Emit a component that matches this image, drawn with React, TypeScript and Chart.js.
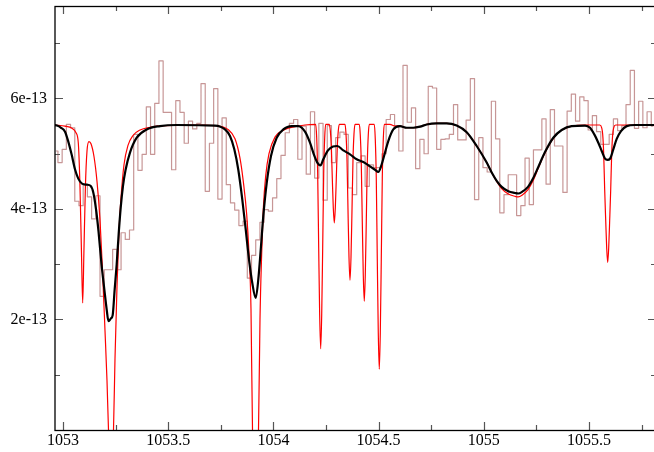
import React, { useEffect, useRef } from "react";
import { Chart, registerables } from "chart.js";

Chart.register(...registerables);

// Flux values are in units of 1e-13 (axis labels carry the "e-13").
// Observed spectrum: binned histogram, first bin centre + bin width (Å)
const obsFirstBinCentre = 1052.966;
const obsBinWidth = 0.02;
const observedFlux = [
  5.05, 4.84, 5.08, 5.53, 5.47, 4.14, 4.06, 4.44, 4.22, 3.82,
  4.24, 2.42, 2.9, 2.9, 3.27, 2.9, 3.57, 3.45, 3.62, 5.35,
  4.7, 4.99, 5.85, 4.99, 5.91, 6.68, 5.75, 5.75, 4.71, 5.96,
  5.75, 5.19, 5.59, 5.45, 5.55, 6.27, 4.32, 5.19, 6.18, 4.18,
  5.65, 4.44, 4.11, 3.98, 3.7, 3.78, 2.75, 3.16, 3.44, 3.76,
  3.99, 3.96, 4.2, 4.55, 4.97, 5.38, 5.55, 5.62, 4.9, 5.5,
  4.63, 5.76, 4.56, 5.55, 4.16, 5.51, 4.84, 5.29, 5.39, 5.35,
  4.38, 4.26, 4.84, 4.96, 4.41, 4.8, 4.75, 4.75, 5.0, 5.62,
  5.71, 5.51, 5.05, 6.6, 5.57, 5.83, 4.73, 5.26, 5.0, 6.22,
  6.19, 5.08, 5.26, 5.27, 5.35, 5.89, 5.25, 5.25, 5.61, 6.36,
  4.17, 5.29, 4.75, 4.67, 5.95, 5.27, 3.93, 4.26, 4.62, 4.62,
  3.88, 4.06, 4.92, 4.08, 5.07, 5.07, 5.63, 4.45, 5.8, 5.14,
  5.14, 4.3, 5.77, 6.08, 5.59, 6.03, 5.96, 5.43, 5.69, 5.4,
  5.17, 5.17, 5.35, 5.63, 5.42, 5.51, 5.89, 6.51, 5.46, 5.95,
  5.47, 5.76, 5.5,
];

// Intrinsic model (thin red line)
const modelWave = [
  1052.962, 1053.0095, 1053.0428, 1053.0618, 1053.0727, 1053.0808, 1053.0879, 1053.0936, 1053.0993, 1053.1065,
  1053.1141, 1053.1236, 1053.1331, 1053.1473, 1053.1616, 1053.1759, 1053.1877, 1053.1996, 1053.2091, 1053.2163,
  1053.2234, 1053.2329, 1053.24, 1053.2472, 1053.2567, 1053.2662, 1053.2757, 1053.2899, 1053.3089, 1053.3327,
  1053.366, 1053.4135, 1053.4848, 1053.6511, 1053.7224, 1053.7842, 1053.8175, 1053.8412, 1053.8569, 1053.8731,
  1053.884, 1053.8935, 1053.9007, 1053.9078, 1053.9221, 1053.9292, 1053.9363, 1053.9444, 1053.952, 1053.9634,
  1053.9791, 1054.0076, 1054.0552, 1054.1027, 1054.1502,
  1054.201, 1054.2058, 1054.2105, 1054.2153, 1054.22, 1054.2248, 1054.2296, 1054.2343, 1054.2391, 1054.2438, 1054.2486,
  1054.2657, 1054.2705, 1054.2752, 1054.28, 1054.2847, 1054.2895, 1054.2943, 1054.299, 1054.3038, 1054.3085, 1054.3133,
  1054.3403, 1054.3451, 1054.3498, 1054.3546, 1054.3593, 1054.3641, 1054.3689, 1054.3736, 1054.3784, 1054.3831, 1054.3879,
  1054.4082, 1054.413, 1054.4177, 1054.4225, 1054.4272, 1054.432, 1054.4368, 1054.4415, 1054.4463, 1054.451, 1054.4558,
  1054.4795, 1054.4843, 1054.489, 1054.4938, 1054.4985, 1054.5033, 1054.5081, 1054.5128, 1054.5176, 1054.5223, 1054.5271,
  1054.5542, 1054.578, 1054.6017, 1054.6336, 1054.665, 1054.6968, 1054.7286, 1054.7762, 1054.8237, 1054.8712,
  1054.9188, 1054.9663, 1055.0138, 1055.0376, 1055.0613, 1055.0851, 1055.1165, 1055.1483, 1055.164, 1055.1816,
  1055.2101, 1055.2339, 1055.2591, 1055.2909, 1055.3304, 1055.3703, 1055.4178, 1055.4811,
  1055.5509, 1055.5604, 1055.5651, 1055.5699, 1055.5746, 1055.5794, 1055.5841, 1055.5889, 1055.5937, 1055.5984,
  1055.6032, 1055.6079, 1055.6127, 1055.6174, 1055.6269, 1055.8185,
];
const modelFlux = [
  5.52, 5.5, 5.46, 5.38, 5.2, 4.4, 3.2, 2.3, 3.2, 4.4,
  5.05, 5.22, 5.18, 4.95, 4.5, 3.8, 2.9, 1.8, 0.9, 0.0,
  -0.4, -0.4, 0.0, 1.3, 2.6, 3.6, 4.2, 4.8, 5.15, 5.33,
  5.43, 5.48, 5.51, 5.52, 5.51, 5.44, 5.27, 4.92, 4.5, 3.9,
  3.2, 2.2, 0.0, -0.4, -0.4, 0.0, 2.0, 3.2, 4.0, 4.6,
  5.0, 5.3, 5.44, 5.49, 5.52,
  5.53, 5.29, 4.64, 3.3, 2.08, 1.47, 2.08, 3.3, 4.64, 5.29, 5.53,
  5.53, 5.42, 5.14, 4.55, 4.02, 3.75, 4.02, 4.55, 5.14, 5.42, 5.53,
  5.53, 5.36, 4.91, 3.98, 3.13, 2.71, 3.13, 3.98, 4.91, 5.36, 5.53,
  5.53, 5.34, 4.83, 3.77, 2.81, 2.33, 2.81, 3.77, 4.83, 5.34, 5.53,
  5.53, 5.26, 4.56, 3.09, 1.76, 1.1, 1.76, 3.09, 4.56, 5.26, 5.53,
  5.53, 5.5, 5.5, 5.47, 5.47, 5.49, 5.53, 5.55, 5.55, 5.51,
  5.39, 5.14, 4.84, 4.66, 4.5, 4.37, 4.27, 4.23, 4.22, 4.25,
  4.35, 4.51, 4.74, 5.02, 5.28, 5.43, 5.5, 5.52,
  5.52, 5.47, 5.35, 5.0, 4.35, 3.8, 3.3, 3.03, 3.3, 3.8,
  4.35, 5.0, 5.35, 5.47, 5.52, 5.52,
];

// Convolved model (thick black line)
const convolvedWave = [
  1052.957, 1052.9715, 1052.9905, 1053.0095, 1053.0252, 1053.0414, 1053.057, 1053.0727, 1053.0903, 1053.1141,
  1053.1307, 1053.144, 1053.1568, 1053.1687, 1053.183, 1053.1963, 1053.2077, 1053.2163, 1053.2282, 1053.2362,
  1053.2457, 1053.2552, 1053.2647, 1053.2742, 1053.2852, 1053.2971, 1053.3184, 1053.3503, 1053.3978, 1053.461,
  1053.5404, 1053.7224, 1053.77, 1053.7937, 1053.8142, 1053.8332, 1053.8522, 1053.8684, 1053.884, 1053.8997,
  1053.9159, 1053.9282, 1053.9411, 1053.952, 1053.9682, 1053.9886, 1054.0157, 1054.0471, 1054.087, 1054.1184,
  1054.1502, 1054.174, 1054.193, 1054.2087, 1054.2239, 1054.2372, 1054.2595, 1054.2833, 1054.3037, 1054.3322,
  1054.3641, 1054.3959, 1054.4273, 1054.4592, 1054.4829, 1054.4986, 1054.5148, 1054.5305, 1054.5461, 1054.5699,
  1054.6017, 1054.6336, 1054.665, 1054.6968, 1054.7286, 1054.7762, 1054.8237, 1054.8712, 1054.9188, 1054.9663,
  1055.0138, 1055.0376, 1055.0613, 1055.0851, 1055.1165, 1055.1483, 1055.164, 1055.1816, 1055.2101, 1055.2339,
  1055.2591, 1055.2909, 1055.3304, 1055.3703, 1055.4178, 1055.4811, 1055.5049, 1055.5253, 1055.5443, 1055.5605,
  1055.5762, 1055.588, 1055.5999, 1055.6156, 1055.6318, 1055.6522, 1055.6793, 1055.7187, 1055.8185,
];
const convolvedFlux = [
  5.52, 5.51, 5.47, 5.4, 5.22, 4.98, 4.72, 4.55, 4.46, 4.44,
  4.42, 4.3, 4.0, 3.6, 3.0, 2.55, 2.18, 1.97, 2.02, 2.08,
  2.55, 3.0, 3.55, 4.02, 4.42, 4.7, 5.02, 5.29, 5.44, 5.5,
  5.52, 5.51, 5.44, 5.32, 5.08, 4.71, 4.17, 3.63, 3.09, 2.66,
  2.39, 2.72, 3.33, 3.87, 4.47, 4.96, 5.29, 5.44, 5.5, 5.5,
  5.4, 5.2, 4.98, 4.84, 4.79, 4.9, 5.06, 5.13, 5.14, 5.06,
  4.99, 4.9, 4.85, 4.77, 4.71, 4.67, 4.81, 5.02, 5.23, 5.44,
  5.5, 5.47, 5.47, 5.49, 5.53, 5.55, 5.55, 5.51, 5.39, 5.14,
  4.84, 4.66, 4.51, 4.4, 4.32, 4.29, 4.28, 4.31, 4.4, 4.55,
  4.76, 5.03, 5.29, 5.43, 5.5, 5.51, 5.47, 5.35, 5.2, 5.05,
  4.91, 4.89, 4.91, 5.08, 5.27, 5.41, 5.5, 5.52, 5.52,
];

const xMajorTicks = [1053, 1053.5, 1054, 1054.5, 1055, 1055.5];
const xMinorTicks = [1053.25, 1053.75, 1054.25, 1054.75, 1055.25, 1055.75];
const yMajorTicks = [2, 4, 6];
const yMinorTicks = [1, 3, 5, 7];
const xMin = 1052.962;
const xMax = 1055.8185;
const yMin = 0;
const yMax = 7.674;

const framePlugin = {
  id: "xmgraceFrame",
  afterDatasetsDraw(chart: any) {
    const { ctx, chartArea: a, scales } = chart;
    const xs = scales.x;
    const ys = scales.y;
    ctx.save();
    // ticks (inward, all four sides)
    ctx.strokeStyle = "#555";
    ctx.lineWidth = 1.2;
    const major = 8;
    const minor = 5;
    const vTick = (v: number, len: number) => {
      const px = Math.round(xs.getPixelForValue(v)) + 0.5;
      ctx.beginPath();
      ctx.moveTo(px, a.bottom);
      ctx.lineTo(px, a.bottom - len);
      ctx.moveTo(px, a.top);
      ctx.lineTo(px, a.top + len);
      ctx.stroke();
    };
    const hTick = (v: number, len: number) => {
      const py = Math.round(ys.getPixelForValue(v)) + 0.5;
      ctx.beginPath();
      ctx.moveTo(a.left, py);
      ctx.lineTo(a.left + len, py);
      ctx.moveTo(a.right, py);
      ctx.lineTo(a.right - len, py);
      ctx.stroke();
    };
    xMajorTicks.forEach((v) => vTick(v, major));
    xMinorTicks.forEach((v) => vTick(v, minor));
    yMajorTicks.forEach((v) => hTick(v, major));
    yMinorTicks.forEach((v) => hTick(v, minor));
    // frame
    ctx.strokeStyle = "#000";
    ctx.lineWidth = 1.3;
    ctx.strokeRect(a.left, a.top + 0.5, a.right - a.left, a.bottom - a.top);
    // labels
    ctx.fillStyle = "#000";
    ctx.font = '16px "Liberation Serif", "Times New Roman", serif';
    ctx.textAlign = "center";
    ctx.textBaseline = "middle";
    xMajorTicks.forEach((v) => {
      ctx.fillText(String(v), xs.getPixelForValue(v), a.bottom + 11);
    });
    ctx.textAlign = "right";
    yMajorTicks.forEach((v) => {
      ctx.fillText(`${v}e-13`, a.left - 8, ys.getPixelForValue(v));
    });
    ctx.restore();
  },
};

export default function App() {
  const canvasRef = useRef<HTMLCanvasElement | null>(null);

  useEffect(() => {
    const canvas = canvasRef.current;
    if (!canvas) return;
    const observed = observedFlux.map((y, i) => ({
      x: obsFirstBinCentre + i * obsBinWidth,
      y,
    }));
    const model = modelWave.map((x, i) => ({ x, y: modelFlux[i] }));
    const convolved = convolvedWave.map((x, i) => ({ x, y: convolvedFlux[i] }));

    const chart = new Chart(canvas, {
      type: "line",
      data: {
        datasets: [
          {
            label: "convolved",
            data: convolved,
            borderColor: "#000000",
            borderWidth: 2.2,
            cubicInterpolationMode: "monotone",
            pointRadius: 0,
            order: 0,
            clip: 0,
          },
          {
            label: "model",
            data: model,
            borderColor: "#ff0000",
            borderWidth: 1.2,
            cubicInterpolationMode: "monotone",
            pointRadius: 0,
            order: 1,
            clip: 0,
          },
          {
            label: "observed",
            data: observed,
            borderColor: "rgba(175, 105, 105, 0.7)",
            borderWidth: 1.2,
            stepped: "middle",
            pointRadius: 0,
            order: 2,
            clip: 0,
          },
        ],
      } as any,
      options: {
        responsive: false,
        maintainAspectRatio: false,
        animation: false,
        devicePixelRatio: 1,
        layout: { padding: { left: 55, right: 4, top: 6, bottom: 22 } },
        plugins: {
          legend: { display: false },
          tooltip: { enabled: false },
        },
        elements: { line: { borderJoinStyle: "round" } },
        scales: {
          x: { type: "linear", min: xMin, max: xMax, display: false },
          y: { type: "linear", min: yMin, max: yMax, display: false },
        },
      } as any,
      plugins: [framePlugin],
    });
    return () => chart.destroy();
  }, []);

  return (
    <div
      style={{
        position: "fixed",
        left: 0,
        top: 0,
        width: 654,
        height: 452,
        overflow: "hidden",
        background: "#fff",
      }}
    >
      <canvas ref={canvasRef} width={660} height={452} style={{ display: "block" }} />
    </div>
  );
}
